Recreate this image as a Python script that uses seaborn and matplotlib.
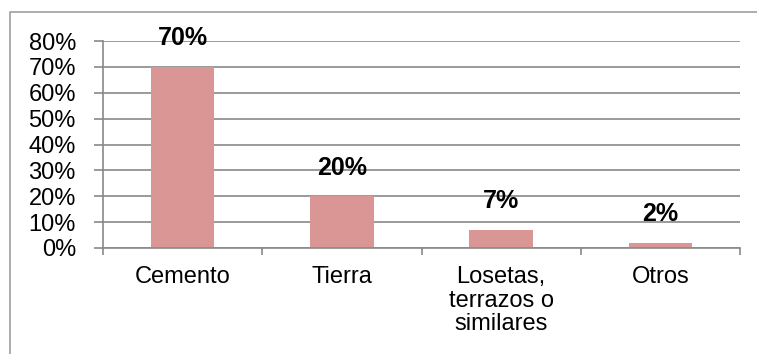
import matplotlib
matplotlib.use("Agg")
import matplotlib.pyplot as plt
import seaborn as sns
import pandas as pd
from matplotlib.lines import Line2D
from matplotlib.ticker import PercentFormatter, FixedLocator

categories = ["Cemento", "Tierra", "Losetas,\nterrazos o\nsimilares", "Otros"]
values = [0.70, 0.20, 0.07, 0.02]
value_labels = ["70%", "20%", "7%", "2%"]
yticks = [0.0, 0.1, 0.2, 0.3, 0.4, 0.5, 0.6, 0.7, 0.8]

sns.set_theme(style="white")
plt.rcParams['font.family'] = ['Liberation Sans', 'DejaVu Sans']
plt.rcParams['text.color'] = 'black'
plt.rcParams['xtick.color'] = 'black'
plt.rcParams['ytick.color'] = 'black'

W, H = 757, 354
fig = plt.figure(figsize=(W / 100, H / 100), dpi=100)
ax = fig.add_axes([103 / W, 1 - 248 / H, (740 - 103) / W, (248 - 41) / H])

df = pd.DataFrame({"cat": categories, "val": values})
sns.barplot(data=df, x="cat", y="val", color="#D99694", saturation=1, width=0.4,
            linewidth=0, edgecolor="none", ax=ax)

ax.set_xlim(-0.5, 3.5)
ax.set_ylim(0, 0.8)
ax.set_yticks(yticks)
ax.yaxis.set_major_formatter(PercentFormatter(1.0, decimals=0))
ax.grid(axis="y", color="#898989", linewidth=1.2)
ax.set_axisbelow(True)
for s in ["top", "right"]:
    ax.spines[s].set_visible(False)
for s in ["left", "bottom"]:
    ax.spines[s].set_color("#898989")
    ax.spines[s].set_linewidth(1.2)
ax.set_xlabel("")
ax.set_ylabel("")
ax.tick_params(axis="y", which="major", length=6.5, width=1.2, color="#898989",
               labelcolor="black", labelsize=17, pad=13, left=True)
ax.tick_params(axis="x", which="major", length=0, labelsize=17, labelcolor="black", pad=13)
ax.xaxis.set_minor_locator(FixedLocator([-0.5, 0.5, 1.5, 2.5, 3.5]))
ax.tick_params(axis="x", which="minor", length=5, width=1.2, color="#898989", bottom=True)
for lbl in ax.get_xticklabels():
    lbl.set_linespacing(1.09)
    lbl.set_verticalalignment("top")

for i, (v, t) in enumerate(zip(values, value_labels)):
    ax.annotate(t, (i, v), xytext=(0, 12), textcoords="offset points",
                ha="center", va="bottom", fontsize=18, fontweight="bold", color="black",
                annotation_clip=False)

x0 = 10 / W
y0 = 1 - 12 / H
fig.add_artist(Line2D([x0, x0, 1.0], [0.0, y0, y0], transform=fig.transFigure,
                      color="#A6A6A6", linewidth=1.3))

fig.savefig("out.png", dpi=100)
